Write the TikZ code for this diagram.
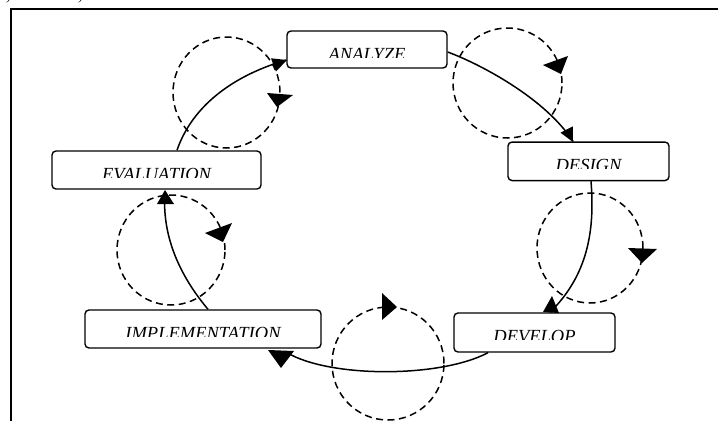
\documentclass[tikz,border=0pt]{standalone}
\usepackage{fontspec}
\setmainfont{Liberation Serif}
\begin{document}
\begin{tikzpicture}[x=1pt,y=-1pt,
  box/.style={draw,rounded corners=4pt,line width=1.4pt,inner sep=0pt,minimum height=38pt},
  lbl/.style={font=\itshape\fontsize{18.5}{20}\selectfont,inner sep=0pt,anchor=base},
  conn/.style={line width=1.5pt},
  loopc/.style={line width=1.5pt,dash pattern=on 7pt off 4.5pt},
  head/.style={fill=black},
  frag/.style={font=\itshape\fontsize{12}{12}\selectfont,inner sep=0pt,anchor=south}]
\useasboundingbox (0,0) rectangle (718,421);
% frame
\draw[line width=1.7pt] (11,421) -- (11,9) -- (718,9);
\node[frag] (f1) at (9,3) {)};
\node[frag] (f2) at (81,3) {)};
% boxes
\node[box,minimum width=160pt,minimum height=37pt] (an) at (367,49.5) {};
\node[box,minimum width=209pt] (ev) at (156.5,170) {};
\node[box,minimum width=161pt,minimum height=38.5pt] (de) at (588.5,161.3) {};
\node[box,minimum width=161pt,minimum height=39pt] (dv) at (534.5,332.5) {};
\node[box,minimum width=236pt] (im) at (203,329) {};
% clipped labels
\foreach \n/\t in {an/ANALYZE,ev/EVALUATION,de/DESIGN,dv/DEVELOP,im/IMPLEMENTATION}{
  \begin{scope}
    \clip ([xshift=2pt]\n.north west) rectangle ([yshift=-27pt,xshift=-2pt]\n.north east);
    \node[lbl] (\n-t) at ([yshift=-30pt]\n.north) {\t};
  \end{scope}
}
% dashed loops
\draw[loopc] (226.5,92.5) ellipse [x radius=53.5pt, y radius=55.5pt];
\draw[loopc] (507.5,83) ellipse [x radius=54.5pt, y radius=55pt];
\draw[loopc] (590,248) ellipse [x radius=53pt, y radius=55pt];
\draw[loopc] (388,363.5) ellipse [x radius=56pt, y radius=56.5pt];
\draw[loopc] (171,250) ellipse [x radius=54pt, y radius=55pt];
% loop heads
\fill[head] (267,93) -- (293,95) -- (277,107) -- cycle;
\fill[head] (543,65) -- (568,56) -- (561,74) -- cycle;
\fill[head] (628,248) -- (657,249) -- (642,263) -- cycle;
\fill[head] (382,293) -- (382,320) -- (397,307) -- cycle;
\fill[head] (205,233) -- (232,223) -- (223,242) -- cycle;
% solid connectors
\draw[conn] ([xshift=20.5pt]ev.north) .. controls (190,112) and (225,78) .. ([yshift=-10.5pt]an.west);
\draw[conn] ([yshift=-2.5pt]an.east) .. controls (480,64) and (545,98) .. ([xshift=-15.5pt]de.north);
\draw[conn] ([xshift=2.5pt]de.south) .. controls (595,230) and (588,275) .. ([xshift=15.5pt]dv.north);
\draw[conn] ([xshift=-46.5pt]dv.south) .. controls (440,378) and (330,378) .. ([xshift=84pt,yshift=-4pt]im.south);
\draw[conn] ([xshift=5pt]im.north) .. controls (175,270) and (162,230) .. ([xshift=8.5pt,yshift=-2pt]ev.south);
% connector heads
\fill[head] (287,60) -- (276,71.5) -- (271,58.3) -- cycle;
\fill[head] (573,142) -- (572.9,126.3) -- (560.5,132.7) -- cycle;
\fill[head] (543,312) -- (559,313) -- (552,296) -- cycle;
\fill[head] (268,350) -- (294,351) -- (281,368) -- cycle;
\fill[head] (157,204) -- (174,204) -- (165,190) -- cycle;
\end{tikzpicture}
\end{document}
